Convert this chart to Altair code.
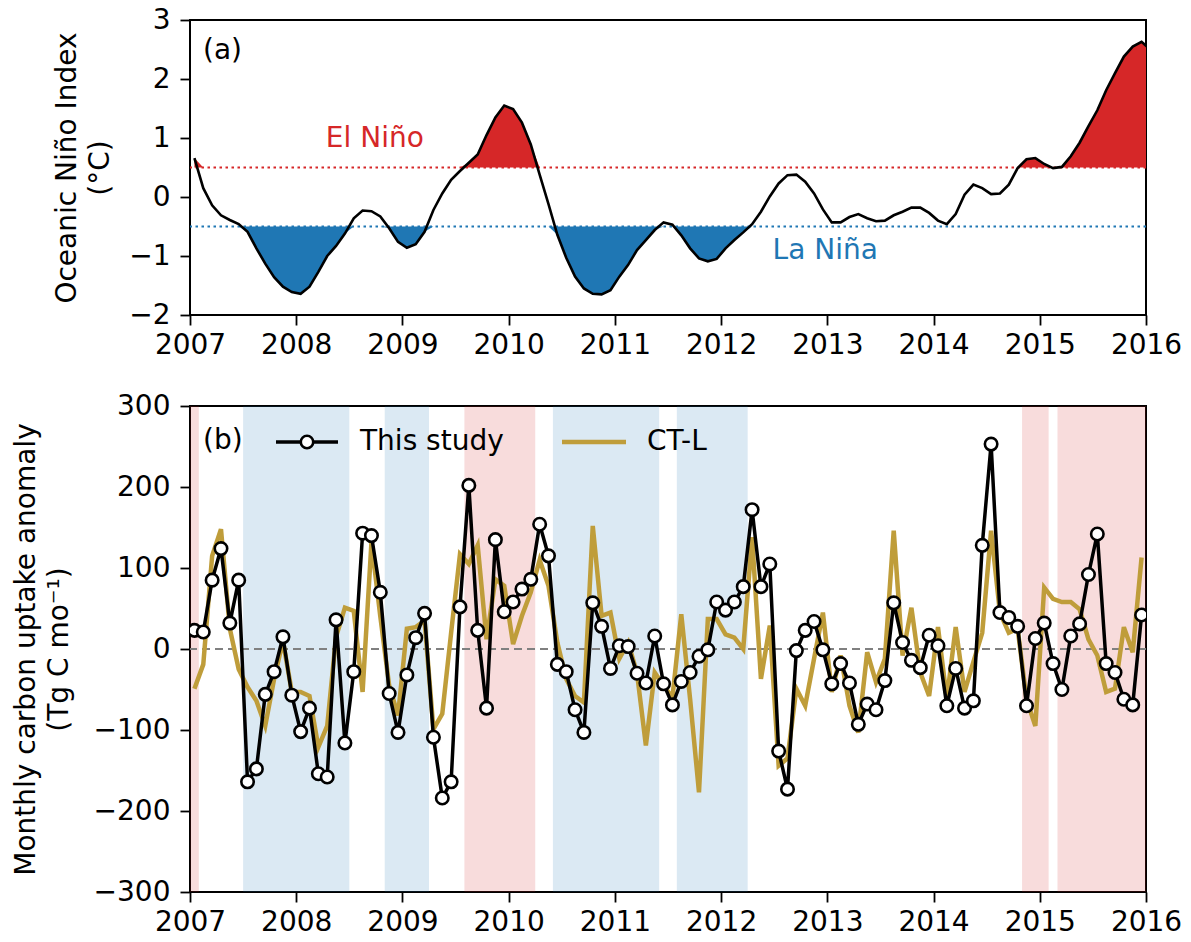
import altair as alt
import pandas as pd

# ---------------- data ----------------
# Oceanic Nino Index, monthly, Jan 2007 .. Jan 2016
oni = [0.66, 0.15, -0.14, -0.31, -0.39, -0.46, -0.59, -0.87, -1.13, -1.36, -1.52, -1.61,
       -1.64, -1.52, -1.27, -1.00, -0.83, -0.62, -0.36, -0.23, -0.24, -0.33, -0.53, -0.76,
       -0.86, -0.80, -0.59, -0.22, 0.06, 0.29, 0.44, 0.58, 0.72, 1.05, 1.35, 1.55,
       1.49, 1.26, 0.89, 0.38, -0.12, -0.64, -1.03, -1.35, -1.55, -1.64, -1.65, -1.58,
       -1.35, -1.15, -0.90, -0.73, -0.56, -0.43, -0.47, -0.65, -0.87, -1.04, -1.09, -1.05,
       -0.87, -0.73, -0.60, -0.46, -0.25, 0.01, 0.23, 0.37, 0.38, 0.26, 0.06, -0.21,
       -0.43, -0.43, -0.34, -0.29, -0.36, -0.41, -0.40, -0.31, -0.25, -0.18, -0.18, -0.27,
       -0.40, -0.46, -0.29, 0.04, 0.21, 0.15, 0.05, 0.06, 0.21, 0.49, 0.64, 0.66,
       0.56, 0.49, 0.51, 0.69, 0.92, 1.20, 1.47, 1.81, 2.10, 2.38, 2.55, 2.63,
       2.50]

# Monthly carbon uptake anomaly (Tg C / month), Jan 2007 .. Dec 2015
this_study = [23, 21, 85, 124, 32, 85, -164, -148, -56, -28, 15, -57,
              -102, -73, -154, -158, 36, -116, -28, 143, 140, 70, -55, -103,
              -32, 14, 44, -109, -184, -164, 52, 202, 23, -73, 135, 46,
              58, 74, 86, 154, 115, -19, -28, -75, -103, 57, 28, -24,
              4, 3, -30, -42, 16, -43, -69, -40, -29, -9, -1, 58,
              48, 58, 77, 172, 77, 105, -126, -173, -2, 23, 34, -1,
              -43, -18, -42, -93, -68, -75, -39, 57, 8, -14, -23, 17,
              4, -70, -24, -73, -64, 128, 253, 45, 39, 28, -70, 13,
              32, -18, -50, 16, 31, 92, 142, -18, -29, -62, -69, 42]

ct_l = [-49, -19, 115, 148, 25, -25, -47, -64, -95, -37, 10, -53,
        -53, -58, -121, -95, 15, 51, 47, -53, 132, 40, -45, -82,
        25, 27, 35, -99, -80, 20, 117, 105, 128, 12, 86, 78,
        6, 41, 70, 110, 78, 8, -37, -58, -66, 152, 41, 45,
        -12, 8, -30, -119, -29, -45, -60, 43, -62, -177, 37, 37,
        18, 14, 0, 138, -37, 29, -144, -135, -49, -70, -12, 45,
        -53, -8, -70, -103, -4, -41, -12, 146, -8, 51, -29, -58,
        27, -62, 27, -53, -16, 20, 146, 45, 20, 25, -62, -95,
        76, 62, 58, 58, 49, 12, -8, -53, -49, 27, -4, 113]

year_ticks = list(range(2007, 2017))
oni_ticks = [-2, -1, 0, 1, 2, 3]
flux_ticks = [-300, -200, -100, 0, 100, 200, 300]

el_nino_start = [2007.0, 2009.5833, 2014.8333, 2015.1667]
el_nino_end = [2007.0833, 2010.25, 2015.0833, 2016.0]
la_nina_start = [2007.5, 2008.8333, 2010.4167, 2011.5833]
la_nina_end = [2008.5, 2009.25, 2011.4167, 2012.25]

thresholds = [0.5, -0.5]
threshold_colors = ["#d62728", "#1f77b4"]
series_names = ["This study", "CT-L"]
series_colors = ["#000000", "#bf9d3a"]

FONT = "DejaVu Sans"
W, H1, H2 = 956, 295, 486
RED, BLUE = "#d62728", "#1f77b4"
GOLD = series_colors[1]
MARKER = 155

# ---------------- tables ----------------
oni_x = [2007 + (i + 0.5) / 12 for i in range(len(oni))]
flux_x = [2007 + (i + 0.5) / 12 for i in range(len(this_study))]
df_oni = pd.DataFrame({"year": oni_x, "oni": oni})
df_flux = pd.DataFrame({
    "year": flux_x + flux_x,
    "value": this_study + ct_l,
    "series": [series_names[0]] * len(this_study) + [series_names[1]] * len(ct_l),
})
df_thr = pd.DataFrame({"y": thresholds, "c": threshold_colors})
df_el = pd.DataFrame({"start": el_nino_start, "end": el_nino_end})
df_la = pd.DataFrame({"start": la_nina_start, "end": la_nina_end})
one = pd.DataFrame({"k": [0]})

# ---------------- scales / axes ----------------
x_scale = alt.Scale(domain=[2007, 2016], nice=False, zero=False)
x_axis = alt.Axis(values=year_ticks, format="d", title=None, labelFlush=False,
                  labelOverlap=False, labelPadding=6)

y1_scale = alt.Scale(domain=[-2, 3], nice=False, zero=False)
y1_axis = alt.Axis(values=oni_ticks, format="d", title=["Oceanic Niño Index", "(°C)"],
                   titlePadding=14, labelPadding=10)

y2_scale = alt.Scale(domain=[-300, 300], nice=False, zero=False)
y2_axis = alt.Axis(values=flux_ticks, format="d",
                   title=["Monthly carbon uptake anomaly", "(Tg C mo⁻¹)"],
                   titlePadding=20, labelPadding=10)

X = alt.X("year:Q", scale=x_scale, axis=x_axis)

# ---------------- top panel ----------------
red_area = alt.Chart(df_oni).transform_calculate(
    hi="max(datum.oni, 0.5)", lo="0.5"
).mark_area(color=RED, clip=True).encode(
    x=X, y=alt.Y("hi:Q", scale=y1_scale, axis=y1_axis), y2="lo:Q")

blue_area = alt.Chart(df_oni).transform_calculate(
    hi="min(datum.oni, -0.5)", lo="-0.5"
).mark_area(color=BLUE, clip=True).encode(
    x=X, y=alt.Y("hi:Q", scale=y1_scale, axis=y1_axis), y2="lo:Q")

thr_rules = alt.Chart(df_thr).mark_rule(strokeDash=[2.5, 3.5], strokeWidth=2.2).encode(
    y=alt.Y("y:Q", scale=y1_scale, axis=y1_axis),
    color=alt.Color("c:N", scale=None))

oni_line = alt.Chart(df_oni).mark_line(color="black", strokeWidth=2.6, clip=True).encode(
    x=X, y=alt.Y("oni:Q", scale=y1_scale, axis=y1_axis))

el_text = alt.Chart(pd.DataFrame({"t": ["El Niño"]})).mark_text(
    font=FONT, fontSize=28, color=RED, align="center", baseline="middle").encode(
    text="t:N", x=alt.datum(2008.74), y=alt.datum(0.99))

la_text = alt.Chart(pd.DataFrame({"t": ["La Niña"]})).mark_text(
    font=FONT, fontSize=28, color=BLUE, align="center", baseline="middle").encode(
    text="t:N", x=alt.datum(2012.98), y=alt.datum(-0.92))

a_text = alt.Chart(pd.DataFrame({"t": ["(a)"]})).mark_text(
    font=FONT, fontSize=28, color="black", align="left", baseline="middle").encode(
    text="t:N", x=alt.value(13), y=alt.value(31))

top = alt.layer(red_area, blue_area, thr_rules, oni_line, el_text, la_text, a_text).properties(
    width=W, height=H1)

# ---------------- bottom panel ----------------
el_bands = alt.Chart(df_el).mark_rect(color=RED, opacity=0.16).encode(
    x=alt.X("start:Q", scale=x_scale, axis=x_axis), x2="end:Q",
    y=alt.value(0), y2=alt.value(H2))
la_bands = alt.Chart(df_la).mark_rect(color=BLUE, opacity=0.16).encode(
    x=alt.X("start:Q", scale=x_scale, axis=x_axis), x2="end:Q",
    y=alt.value(0), y2=alt.value(H2))

zero_rule = alt.Chart(pd.DataFrame({"z": [0]})).mark_rule(
    color="#808080", strokeDash=[8, 5], strokeWidth=2).encode(
    y=alt.Y("z:Q", scale=y2_scale, axis=y2_axis))

Y2 = alt.Y("value:Q", scale=y2_scale, axis=y2_axis)

ctl_line = alt.Chart(df_flux).transform_filter("datum.series == 'CT-L'").mark_line(
    strokeWidth=4.5, clip=True, color=GOLD).encode(x=X, y=Y2)

study_line = alt.Chart(df_flux).transform_filter("datum.series == 'This study'").mark_line(
    strokeWidth=3.5, clip=True, color="black").encode(x=X, y=Y2)

study_pts = alt.Chart(df_flux).transform_filter("datum.series == 'This study'").mark_point(
    shape="circle", filled=True, fill="white", stroke="black", strokeWidth=2.6,
    size=MARKER, opacity=1, clip=True).encode(x=X, y=Y2)

b_text = alt.Chart(pd.DataFrame({"t": ["(b)"]})).mark_text(
    font=FONT, fontSize=28, color="black", align="left", baseline="middle").encode(
    text="t:N", x=alt.value(13), y=alt.value(35))

# legend drawn as a small key inside the panel (upper left)
LEG_Y = 36
leg_line1 = alt.Chart(one).mark_rule(color="black", strokeWidth=3.5).encode(
    x=alt.value(86), x2=alt.value(148), y=alt.value(LEG_Y))
leg_pt1 = alt.Chart(one).mark_point(
    shape="circle", filled=True, fill="white", stroke="black", strokeWidth=2.6,
    size=MARKER, opacity=1).encode(x=alt.value(117), y=alt.value(LEG_Y))
leg_txt1 = alt.Chart(pd.DataFrame({"t": [series_names[0]]})).mark_text(
    font=FONT, fontSize=28, color="black", align="left", baseline="middle").encode(
    text="t:N", x=alt.value(170), y=alt.value(LEG_Y))
leg_line2 = alt.Chart(one).mark_rule(color=GOLD, strokeWidth=4.5).encode(
    x=alt.value(372), x2=alt.value(436), y=alt.value(LEG_Y))
leg_txt2 = alt.Chart(pd.DataFrame({"t": [series_names[1]]})).mark_text(
    font=FONT, fontSize=28, color="black", align="left", baseline="middle").encode(
    text="t:N", x=alt.value(457), y=alt.value(LEG_Y))

bottom = alt.layer(el_bands, la_bands, zero_rule, ctl_line, study_line, study_pts,
                   b_text, leg_line1, leg_pt1, leg_txt1, leg_line2, leg_txt2
                   ).properties(width=W, height=H2)

chart = alt.vconcat(top, bottom, spacing=31).properties(
    padding={"left": 11, "top": 5, "right": 5, "bottom": 2},
    background="white",
).configure_view(
    stroke="black", strokeWidth=2
).configure_axis(
    labelFont=FONT, labelFontSize=28, labelColor="black",
    titleFont=FONT, titleFontSize=28, titleColor="black", titleFontWeight="normal",
    titleLineHeight=33,
    tickColor="black", tickSize=10, tickWidth=1.8, domain=False, grid=False,
)

chart.save("out.html", embed_options={"renderer": "svg", "actions": False})
